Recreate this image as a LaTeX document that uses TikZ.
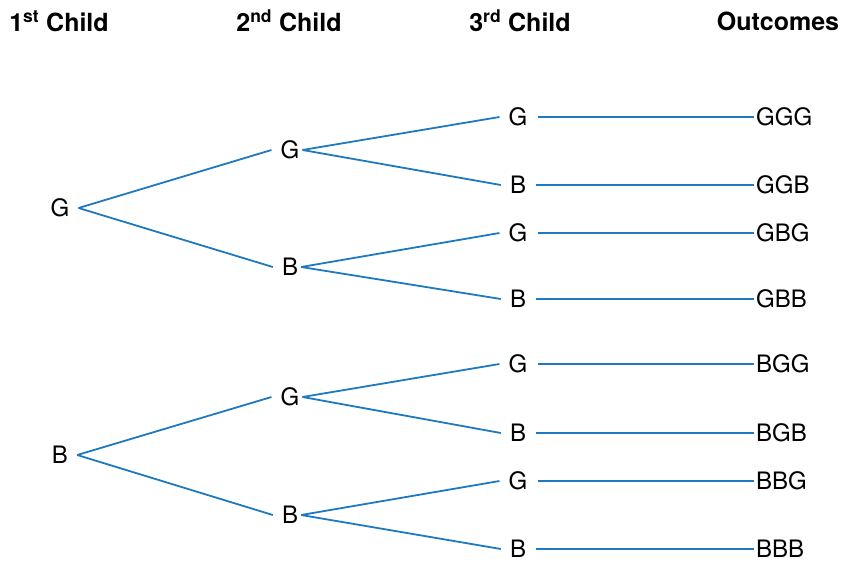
\documentclass[tikz,border=0pt]{standalone}
\usepackage{fontspec}
\setmainfont{TeX Gyre Heros}
\definecolor{branch}{RGB}{30,122,192}
\begin{document}
\begin{tikzpicture}[x=1pt,y=-1pt,
  head/.style={font=\fontsize{25}{27}\selectfont\bfseries, inner sep=0pt},
  lbl/.style={font=\fontsize{24}{26}\selectfont, inner xsep=3pt, inner ysep=0pt},
  outc/.style={font=\fontsize{24}{26}\selectfont, inner xsep=0pt, inner ysep=0pt, anchor=west},
  br/.style={draw=branch, line width=1.8pt}]
\useasboundingbox (0,0) rectangle (848,564);
% headers
\node[head] (h1) at (59,21) {1\textsuperscript{st} Child};
\node[head] (h2) at (289,21) {2\textsuperscript{nd} Child};
\node[head] (h3) at (520,21) {3\textsuperscript{rd} Child};
\node[head] (h4) at (778,21) {Outcomes};
% level 1
\node[lbl] (a1) at (60,208) {G};
\node[lbl] (a2) at (60,455) {B};
% level 2
\node[lbl] (b1) at (290,150) {G};
\node[lbl] (b2) at (290,267) {B};
\node[lbl] (b3) at (290,397) {G};
\node[lbl] (b4) at (290,515) {B};
% level 3
\node[lbl] (c1) at (518,117) {G};
\node[lbl] (c2) at (518,185) {B};
\node[lbl] (c3) at (518,233) {G};
\node[lbl] (c4) at (518,299) {B};
\node[lbl] (c5) at (518,364) {G};
\node[lbl] (c6) at (518,433) {B};
\node[lbl] (c7) at (518,481) {G};
\node[lbl] (c8) at (518,549) {B};
% outcomes
\node[outc] (o1) at (756,117) {GGG};
\node[outc] (o2) at (756,185) {GGB};
\node[outc] (o3) at (756,233) {GBG};
\node[outc] (o4) at (756,299) {GBB};
\node[outc] (o5) at (756,364) {BGG};
\node[outc] (o6) at (756,433) {BGB};
\node[outc] (o7) at (756,481) {BBG};
\node[outc] (o8) at (756,549) {BBB};
% branches level 1 -> 2
\foreach \s/\t in {a1/b1,a1/b2,a2/b3,a2/b4}
  \draw[br] ([xshift=6pt]\s.east) -- ([xshift=-6pt]\t.west);
% level 2 -> 3
\foreach \s/\t in {b1/c1,b1/c2,b2/c3,b2/c4,b3/c5,b3/c6,b4/c7,b4/c8}
  \draw[br] (\s.east) -- ([xshift=-6pt]\t.west);
% level 3 -> outcomes
\foreach \s/\t in {c1/o1,c2/o2,c3/o3,c4/o4,c5/o5,c6/o6,c7/o7,c8/o8}
  \draw[br] ([xshift=7pt]\s.east) -- ([xshift=-2pt]\t.west);
\end{tikzpicture}
\end{document}
